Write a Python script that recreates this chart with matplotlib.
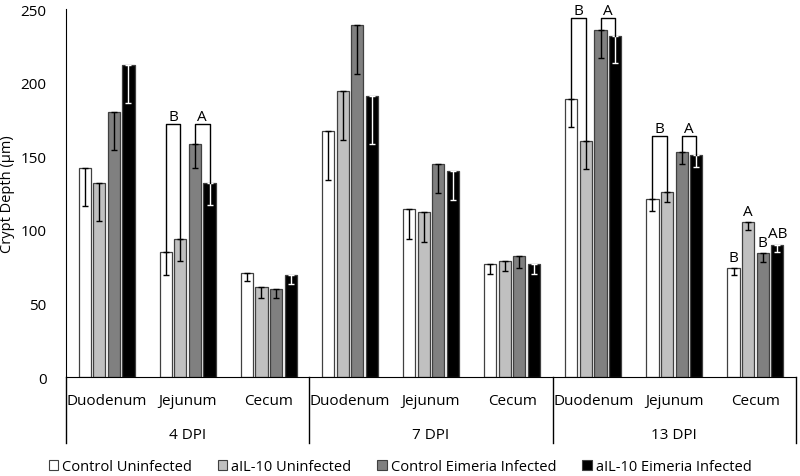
import numpy as np
import matplotlib
matplotlib.use("Agg")
from matplotlib import pyplot as plt
from matplotlib.patches import Patch

plt.rcParams['font.family'] = ['Open Sans', 'DejaVu Sans']

tissues = ["Duodenum", "Jejunum", "Cecum"]
dpi_labels = ["4 DPI", "7 DPI", "13 DPI"]
groups = ["Control Uninfected", "aIL-10 Uninfected", "Control Eimeria Infected", "aIL-10 Eimeria Infected"]
colors = ["#ffffff", "#c0c0c0", "#808080", "#000000"]
err_colors = ["#000000", "#000000", "#000000", "#ffffff"]

# means, order: 4DPI Duo/Jej/Cec, 7DPI Duo/Jej/Cec, 13DPI Duo/Jej/Cec
ctrl_uninf = [142, 85, 71, 167, 114, 77, 189, 121, 74]
ail_uninf = [132, 94, 61, 194, 112, 79, 160, 126, 105]
ctrl_inf = [180, 158, 60, 239, 145, 82, 236, 153, 84]
ail_inf = [212, 132, 69, 191, 140, 77, 232, 151, 90]
# standard errors (drawn downward only)
se_ctrl_uninf = [26, 16, 6, 33, 20, 7, 19, 8, 5]
se_ail_uninf = [26, 15, 7, 33, 20, 7, 19, 7, 5]
se_ctrl_inf = [26, 16, 6, 33, 20, 8, 19, 8, 6]
se_ail_inf = [26, 15, 6, 33, 20, 7, 19, 8, 5]

means = [ctrl_uninf, ail_uninf, ctrl_inf, ail_inf]
errs = [se_ctrl_uninf, se_ail_uninf, se_ctrl_inf, se_ail_inf]

# brackets: (category index, bar a, bar b, height, letter)
brackets = [(1, 0, 1, 172, "B"), (1, 2, 3, 172, "A"),
            (6, 0, 1, 244, "B"), (6, 2, 3, 244, "A"),
            (7, 0, 1, 164, "B"), (7, 2, 3, 164, "A")]
# single letters on 13 DPI cecum
cecum_letters = ["B", "A", "B", "AB"]

fig = plt.figure(figsize=(8, 4.77), dpi=100)
ax = fig.add_axes([0.0825, 0.2075, 0.9125, 0.7715])

x = np.arange(9)
pitch = 0.18
width = 0.15
for i in range(4):
    pos = x + (i - 1.5) * pitch
    ax.bar(pos, means[i], width, color=colors[i], edgecolor="#404040", linewidth=0.9,
           label=groups[i], zorder=2)
    ax.errorbar(pos, means[i], yerr=[errs[i], np.zeros(9)], fmt="none",
                ecolor=err_colors[i], elinewidth=1, capsize=2.5, capthick=1, zorder=3)

for c, a, b, h, letter in brackets:
    xa = c + (a - 1.5) * pitch
    xb = c + (b - 1.5) * pitch
    ax.plot([xa, xa, xb, xb], [means[a][c], h, h, means[b][c]], color="black", lw=1, zorder=4)
    ax.text((xa + xb) / 2, h + 2.5, letter, ha="center", va="baseline", fontsize=11, clip_on=False)

for i, letter in enumerate(cecum_letters):
    xi = 8 + (i - 1.5) * pitch
    ax.text(xi, means[i][8] + 5, letter, ha="center", va="baseline", fontsize=11)

ax.set_xlim(-0.5, 8.5)
ax.set_ylim(0, 250)
ax.set_yticks(range(0, 251, 50))
ax.tick_params(axis="y", length=0, labelsize=11, pad=14)
ax.tick_params(axis="x", length=0, labelbottom=False)
ax.spines["top"].set_visible(False)
ax.spines["right"].set_visible(False)
ax.set_ylabel("Crypt Depth (µm)", fontsize=10.5, labelpad=4)

trans = ax.get_xaxis_transform()
for k in range(9):
    ax.text(k, -0.065, tissues[k % 3], transform=trans, ha="center", va="center", fontsize=11)
for k in range(3):
    ax.text(3 * k + 1, -0.155, dpi_labels[k], transform=trans, ha="center", va="center", fontsize=11)
for xs in [-0.5, 2.5, 5.5, 8.5]:
    ax.plot([xs, xs], [0, -0.18], transform=trans, color="black", lw=1, clip_on=False)

handles = [Patch(facecolor=colors[i], edgecolor="#404040", linewidth=0.8, label=groups[i]) for i in range(4)]
fig.legend(handles=handles, loc="center", ncol=4, frameon=False, fontsize=10.5,
           handlelength=0.65, handleheight=0.65, handletextpad=0.25, columnspacing=1.8,
           bbox_to_anchor=(0.5, 0.02))

fig.savefig("out.png", dpi=100)
